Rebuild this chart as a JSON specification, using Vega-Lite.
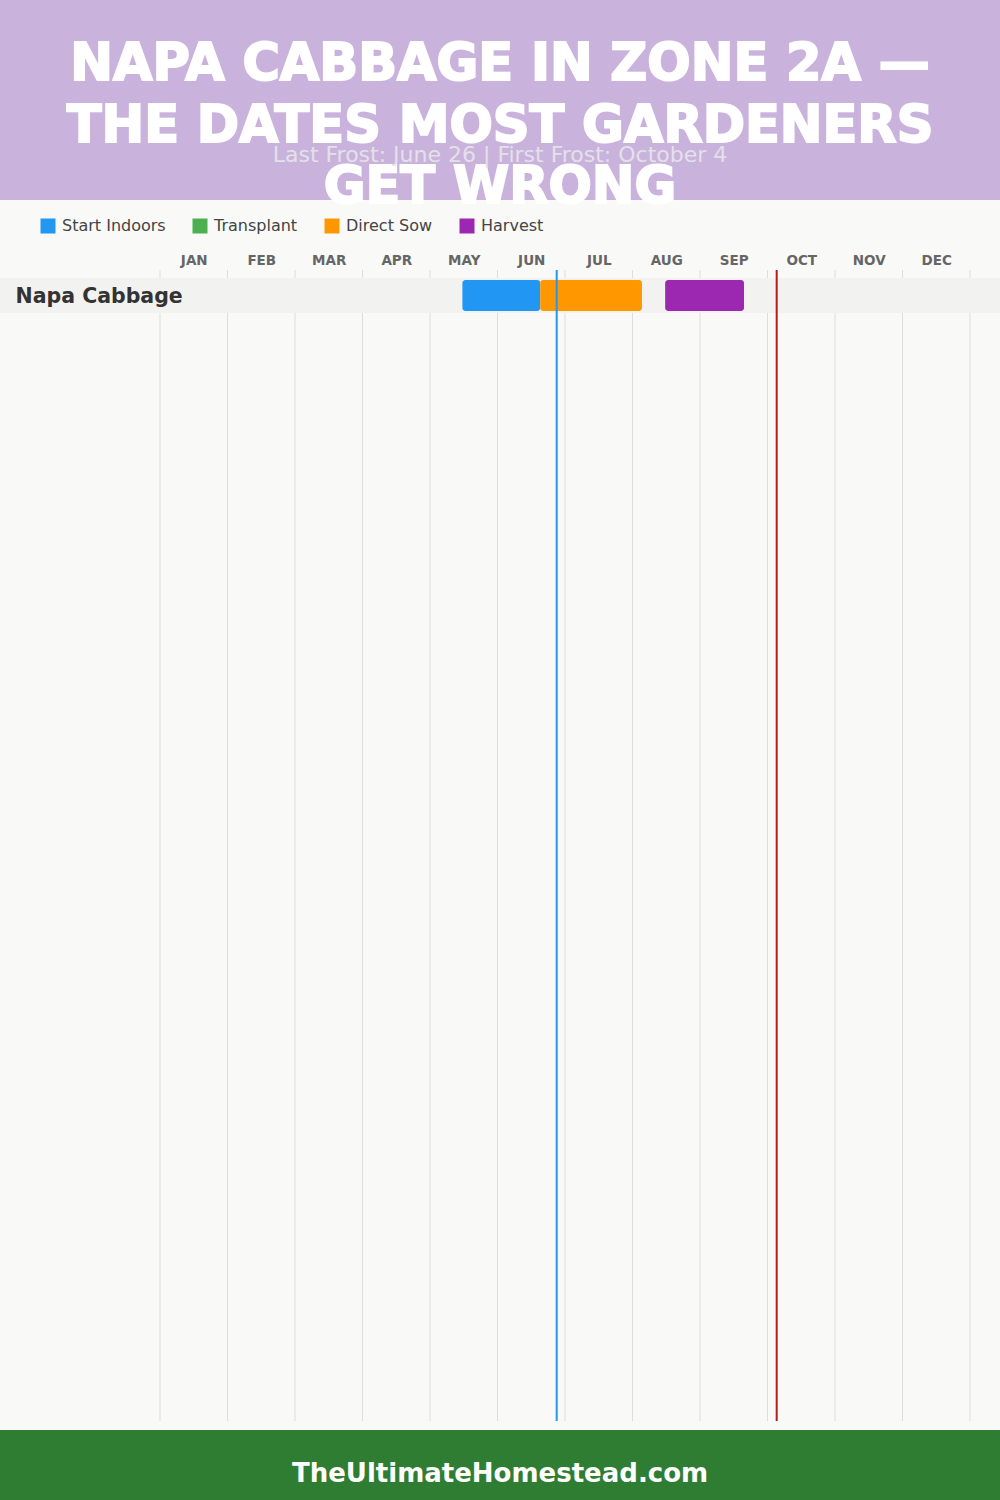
{
  "$schema": "https://vega.github.io/schema/vega-lite/v6.json",
  "background": "#f9f9f7",
  "padding": 0,
  "spacing": 0,
  "bounds": "flush",
  "config": {
    "font": "DejaVu Sans",
    "view": {"stroke": null}
  },
  "resolve": {"scale": {"color": "independent"}, "legend": {"color": "independent"}},
  "vconcat": [
    {
      "width": 1000,
      "height": 200,
      "view": {"fill": "#c9b3dd", "stroke": null},
      "data": {"values": [{"title": "NAPA CABBAGE IN ZONE 2A —\nTHE DATES MOST GARDENERS\nGET WRONG", "subtitle": "Last Frost: June 26 | First Frost: October 4"}]},
      "layer": [
        {
          "mark": {"type": "text", "align": "center", "baseline": "middle", "lineBreak": "\n", "lineHeight": 61.5, "fontSize": 51, "fontWeight": "bold", "font": "DejaVu Sans", "fill": "#ffffff", "stroke": "#ffffff", "strokeWidth": 2, "dy": -35},
          "encoding": {"text": {"field": "title"}}
        },
        {
          "mark": {"type": "text", "align": "center", "baseline": "middle", "fontSize": 22, "font": "DejaVu Sans", "color": "#e4e0e8", "dy": 55},
          "encoding": {"text": {"field": "subtitle"}}
        }
      ]
    },
    {
      "width": 1000,
      "height": 70,
      "data": {"values": [{}]},
      "mark": {"type": "point", "opacity": 0},
      "encoding": {}
    },
    {
      "width": 1000,
      "height": 1151,
      "layer": [
        {
          "data": {"values": [{"m": 0}, {"m": 1}, {"m": 2}, {"m": 3}, {"m": 4}, {"m": 5}, {"m": 6}, {"m": 7}, {"m": 8}, {"m": 9}, {"m": 10}, {"m": 11}, {"m": 12}]},
          "mark": {"type": "rule", "color": "#dddddd", "strokeWidth": 1},
          "encoding": {
            "x": {
              "field": "m", "type": "quantitative",
              "scale": {"domain": [-2.37037, 12.44444], "nice": false, "zero": false},
              "axis": {
                "orient": "top", "title": null, "values": [0,1,2,3,4,5,6,7,8,9,10,11,12],
                "labelExpr": "datum.value < 12 ? ['JAN','FEB','MAR','APR','MAY','JUN','JUL','AUG','SEP','OCT','NOV','DEC'][datum.value] : ''",
                "labelOffset": 33.75, "labelPadding": 6, "labelBaseline": "alphabetic", "labelAlign": "center",
                "labelFontSize": 13.5, "labelFontWeight": "bold", "labelColor": "#666666", "labelFont": "DejaVu Sans",
                "labelBound": false, "labelFlush": false, "labelOverlap": false,
                "domain": false, "ticks": false, "tickSize": 0, "grid": false
              }
            }
          }
        },
        {
          "data": {"values": [{"crop": "Napa Cabbage"}]},
          "mark": {"type": "rect", "color": "#f2f2f1"},
          "encoding": {
            "x": {"value": 0},
            "x2": {"value": "width"},
            "y": {
              "field": "crop", "type": "nominal",
              "scale": {"domain": ["Napa Cabbage"], "range": [8, 43], "paddingInner": 0, "paddingOuter": 0, "round": false},
              "axis": {"orient": "left", "title": null, "domain": false, "ticks": false, "tickSize": 0, "labelAlign": "left", "labelPadding": -15, "labelFontSize": 20.5, "labelFontWeight": "bold", "labelColor": "#333333", "labelFont": "DejaVu Sans", "zindex": 1, "labelOffset": 1.5}
            }
          }
        },
        {
          "data": {"values": [
            {"crop": "Napa Cabbage", "task": "Start Indoors", "start": 4.48, "end": 5.633},
            {"crop": "Napa Cabbage", "task": "Direct Sow", "start": 5.633, "end": 7.14},
            {"crop": "Napa Cabbage", "task": "Harvest", "start": 7.484, "end": 8.652}
          ]},
          "mark": {"type": "bar", "cornerRadius": 3, "height": {"band": 0.886}},
          "encoding": {
            "x": {"field": "start", "type": "quantitative", "scale": {"domain": [-2.37037, 12.44444], "nice": false, "zero": false}, "axis": {"title": null}},
            "x2": {"field": "end"},
            "y": {"field": "crop", "type": "nominal"},
            "color": {
              "field": "task", "type": "nominal",
              "scale": {"domain": ["Start Indoors", "Transplant", "Direct Sow", "Harvest"], "range": ["#2196f3", "#4caf50", "#ff9800", "#9c27b0"]},
              "legend": {
                "title": null, "orient": "none", "legendX": 40, "legendY": -52, "direction": "horizontal",
                "symbolType": "square", "symbolSize": 225, "symbolStrokeWidth": 0, "symbolOpacity": 1,
                "labelFontSize": 16, "labelColor": "#444444", "labelFont": "DejaVu Sans", "labelOffset": 6,
                "columnPadding": 26, "padding": 0, "offset": 0
              }
            }
          }
        },
        {
          "data": {"values": [
            {"frost": "Last Frost", "date": 5.877},
            {"frost": "First Frost", "date": 9.136}
          ]},
          "mark": {"type": "rule", "strokeWidth": 2},
          "encoding": {
            "x": {"field": "date", "type": "quantitative", "scale": {"domain": [-2.37037, 12.44444], "nice": false, "zero": false}, "axis": {"title": null}},
            "stroke": {"field": "frost", "type": "nominal", "scale": {"domain": ["Last Frost", "First Frost"], "range": ["#2196f3", "#b71c1c"]}, "legend": null}
          }
        }
      ]
    },
    {
      "width": 1000,
      "height": 9,
      "data": {"values": [{}]},
      "mark": {"type": "point", "opacity": 0},
      "encoding": {}
    },
    {
      "width": 1000,
      "height": 70,
      "view": {"fill": "#2e7d32", "stroke": null},
      "data": {"values": [{"site": "TheUltimateHomestead.com"}]},
      "mark": {"type": "text", "align": "center", "baseline": "middle", "fontSize": 26, "fontWeight": "bold", "font": "DejaVu Sans", "color": "#ffffff", "dy": 9},
      "encoding": {"text": {"field": "site"}}
    }
  ]
}
